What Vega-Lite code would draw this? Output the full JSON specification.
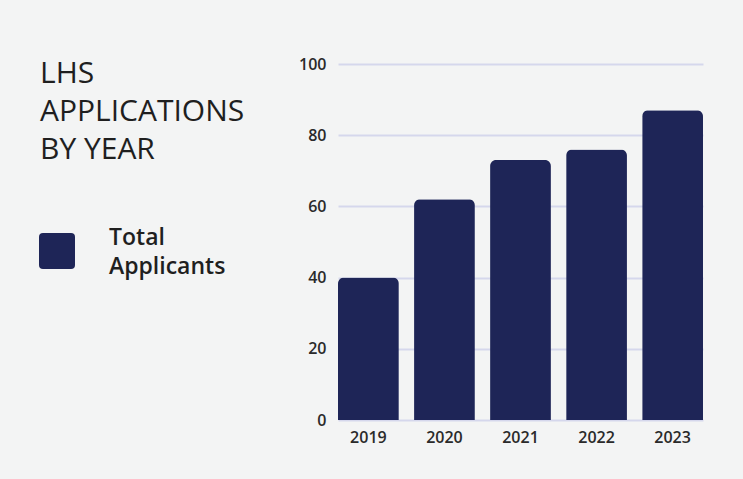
{
  "$schema": "https://vega.github.io/schema/vega-lite/v6.json",
  "autosize": "none",
  "width": 365,
  "height": 356,
  "padding": {"left": 338, "top": 64, "right": 40, "bottom": 59},
  "background": "#f3f4f4",
  "config": {
    "view": {"stroke": null},
    "font": "Open Sans"
  },
  "title": {
    "text": ["LHS", "APPLICATIONS", "BY YEAR"],
    "anchor": "start",
    "frame": "group",
    "dx": -298,
    "baseline": "top",
    "dy": 113,
    "fontSize": 30,
    "fontWeight": "normal",
    "font": "Open Sans",
    "color": "#1f1f1f",
    "lineHeight": 38
  },
  "data": {
    "values": [
      {"year": "2019", "applicants": 40, "series": "Total Applicants"},
      {"year": "2020", "applicants": 62, "series": "Total Applicants"},
      {"year": "2021", "applicants": 73, "series": "Total Applicants"},
      {"year": "2022", "applicants": 76, "series": "Total Applicants"},
      {"year": "2023", "applicants": 87, "series": "Total Applicants"}
    ]
  },
  "mark": {"type": "bar", "cornerRadiusTopLeft": 6, "cornerRadiusTopRight": 6},
  "encoding": {
    "x": {
      "field": "year",
      "type": "nominal",
      "scale": {"paddingInner": 0.2, "paddingOuter": 0},
      "axis": {
        "title": null,
        "domain": false,
        "ticks": false,
        "labelAngle": 0,
        "labelPadding": 9,
        "labelFontSize": 16,
        "labelFontWeight": 600,
        "labelColor": "#2a2a2a",
        "labelFont": "Open Sans"
      }
    },
    "y": {
      "field": "applicants",
      "type": "quantitative",
      "scale": {"domain": [0, 100]},
      "axis": {
        "title": null,
        "domain": false,
        "ticks": false,
        "values": [0, 20, 40, 60, 80, 100],
        "labelPadding": 12,
        "labelFontSize": 16,
        "labelFontWeight": 600,
        "labelColor": "#2a2a2a",
        "labelFont": "Open Sans",
        "gridColor": "#d5d7ec",
        "gridWidth": 2
      }
    },
    "color": {
      "field": "series",
      "type": "nominal",
      "scale": {"range": ["#1e2557"]},
      "legend": {
        "title": null,
        "orient": "none",
        "legendX": -299,
        "legendY": 169,
        "padding": 0,
        "symbolType": "M -1 -0.78 Q -1 -1 -0.78 -1 L 0.78 -1 Q 1 -1 1 -0.78 L 1 0.78 Q 1 1 0.78 1 L -0.78 1 Q -1 1 -1 0.78 Z",
        "symbolSize": 1296,
        "symbolStrokeWidth": 0,
        "symbolOpacity": 1,
        "labelExpr": "['Total', 'Applicants']",
        "labelFontSize": 23,
        "labelFontWeight": 600,
        "labelFont": "Open Sans",
        "labelColor": "#1f1f1f",
        "labelLimit": 0,
        "labelOffset": 34,
        "labelBaseline": "middle",
        "encode": {"labels": {"update": {"lineHeight": {"value": 29}, "dy": {"value": -13}}}}
      }
    }
  }
}
